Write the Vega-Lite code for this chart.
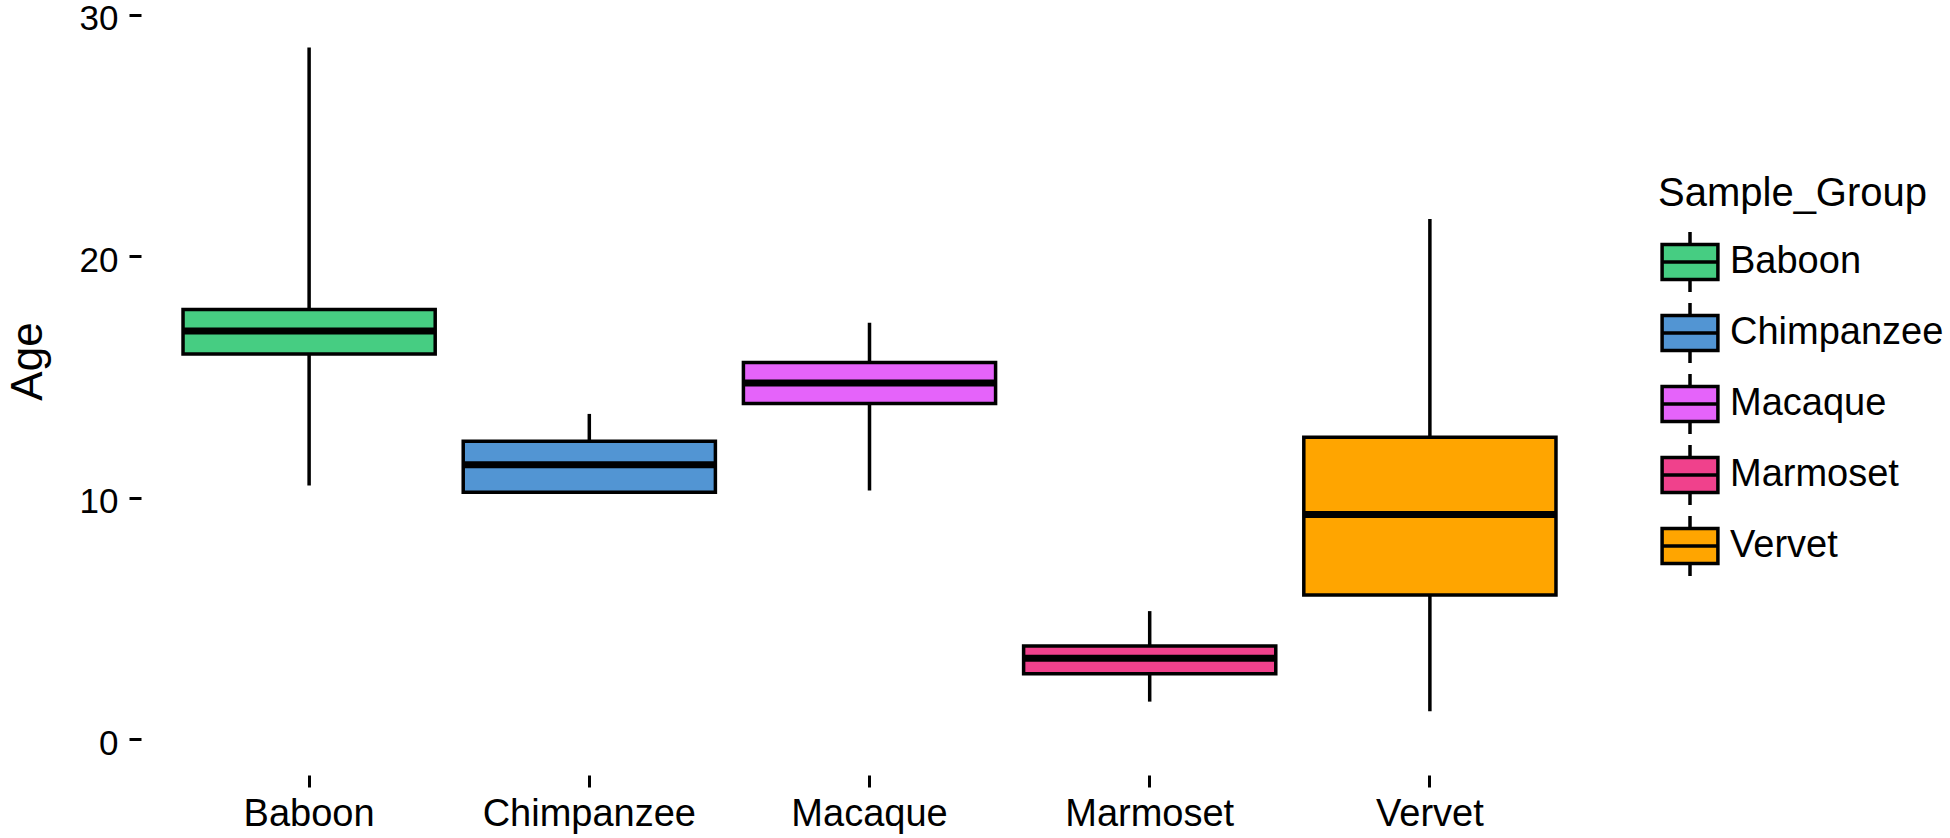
{
  "$schema": "https://vega.github.io/schema/vega-lite/v6.json",
  "width": 1457,
  "height": 769,
  "autosize": {"type": "none"},
  "padding": {"left": 141, "top": 6, "right": 352, "bottom": 63},
  "background": "white",
  "config": {
    "view": {"stroke": null},
    "font": "Liberation Sans",
    "axis": {"grid": false, "domain": false, "tickColor": "black", "tickWidth": 3, "tickSize": 12, "labelColor": "black", "labelFont": "Liberation Sans", "titleFont": "Liberation Sans", "titleFontWeight": "normal", "titleColor": "black", "labelLimit": 0},
    "legend": {"labelFont": "Liberation Sans", "titleFont": "Liberation Sans", "labelLimit": 0, "titleLimit": 0}
  },
  "data": {
    "values": [
      {"Sample_Group": "Baboon", "lower": 10.5, "q1": 15.95, "median": 16.9, "q3": 17.8, "upper": 28.65},
      {"Sample_Group": "Chimpanzee", "lower": 10.22, "q1": 10.22, "median": 11.36, "q3": 12.34, "upper": 13.47},
      {"Sample_Group": "Macaque", "lower": 10.3, "q1": 13.9, "median": 14.75, "q3": 15.6, "upper": 17.25},
      {"Sample_Group": "Marmoset", "lower": 1.55, "q1": 2.7, "median": 3.35, "q3": 3.85, "upper": 5.3},
      {"Sample_Group": "Vervet", "lower": 1.15, "q1": 5.97, "median": 9.3, "q3": 12.5, "upper": 21.55}
    ]
  },
  "encoding": {
    "x": {
      "field": "Sample_Group", "type": "nominal",
      "scale": {"paddingInner": 0.1, "paddingOuter": 0.15},
      "axis": {"title": null, "labelAngle": 0, "labelFontSize": 38, "labelPadding": 8}
    }
  },
  "layer": [
    {
      "mark": {"type": "rule", "strokeWidth": 3.5, "color": "black"},
      "encoding": {
        "y": {"field": "lower", "type": "quantitative", "scale": {"domain": [-1.49, 30.37], "nice": false, "zero": false},
          "axis": {"title": "Age", "values": [0, 10, 20, 30], "labelFontSize": 35, "titleFontSize": 44, "labelPadding": 11, "labelOffset": 4, "titlePadding": 29, "titleY": 355}},
        "y2": {"field": "upper"}
      }
    },
    {
      "mark": {"type": "bar", "stroke": "black", "strokeWidth": 3.5, "opacity": 1},
      "encoding": {
        "y": {"field": "q1", "type": "quantitative"},
        "y2": {"field": "q3"},
        "fill": {
          "field": "Sample_Group", "type": "nominal",
          "scale": {"domain": ["Baboon", "Chimpanzee", "Macaque", "Marmoset", "Vervet"], "range": ["#46CD82", "#5295D3", "#E563FA", "#F0418C", "#FFA500"]},
          "legend": {
            "title": "Sample_Group", "orient": "none", "legendX": 1517, "legendY": 168,
            "titleFontSize": 40, "titleFontWeight": "normal", "titleColor": "black", "titlePadding": 16,
            "labelFontSize": 38, "labelColor": "black", "labelOffset": 8,
            "symbolType": "M-0.93,-0.58 L0.93,-0.58 L0.93,0.58 L-0.93,0.58 Z M-0.93,0 L0.93,0 M0,-1 L0,-0.58 M0,0.58 L0,1",
            "symbolSize": 3600, "symbolStrokeColor": "black", "symbolStrokeWidth": 3.5, "symbolOpacity": 1,
            "rowPadding": -3
          }
        }
      }
    },
    {
      "mark": {"type": "tick", "color": "black", "thickness": 7, "size": 252, "opacity": 1},
      "encoding": {
        "y": {"field": "median", "type": "quantitative"}
      }
    }
  ]
}
